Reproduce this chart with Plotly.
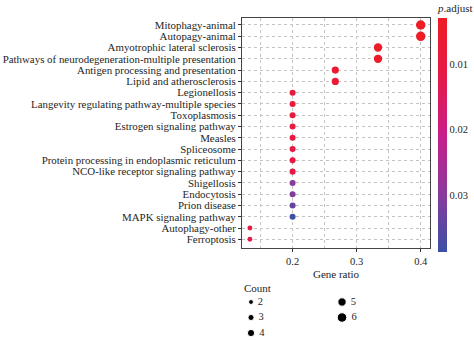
import plotly.graph_objects as go

# KEGG enrichment results
pathways = [
    "Mitophagy-animal",
    "Autopagy-animal",
    "Amyotrophic lateral sclerosis",
    "Pathways of neurodegeneration-multiple presentation",
    "Antigen processing and presentation",
    "Lipid and atherosclerosis",
    "Legionellosis",
    "Langevity regulating pathway-multiple species",
    "Toxoplasmosis",
    "Estrogen signaling pathway",
    "Measles",
    "Spliceosome",
    "Protein processing in endoplasmic reticulum",
    "NCO-like receptor signaling pathway",
    "Shigellosis",
    "Endocytosis",
    "Prion disease",
    "MAPK signaling pathway",
    "Autophagy-other",
    "Ferroptosis",
]
counts = [6, 6, 5, 5, 4, 4, 3, 3, 3, 3, 3, 3, 3, 3, 3, 3, 3, 3, 2, 2]
total_genes = 15
gene_ratio = [c / total_genes for c in counts]
p_adjust = [0.0032, 0.0032, 0.0042, 0.0045, 0.0062, 0.0068, 0.0085, 0.0088,
            0.0092, 0.0095, 0.0098, 0.0100, 0.0102, 0.0108, 0.0300, 0.0312,
            0.0340, 0.0385, 0.0110, 0.0112]

legend_counts = [2, 3, 4, 5, 6]
cbar_ticks = [0.01, 0.02, 0.03]
x_ticks = [0.2, 0.3, 0.4]

FONT = "Liberation Serif"
TXT = "#1e1e1e"
W, H = 474, 340
M_TOP = 18
PAPER_H = H - M_TOP          # bottom margin is zero; the key lives inside the paper
PLOT_BOTTOM_PX = 248


def dot_size(c):
    return 2.6 + 1.15 * c


def paper_y(px):
    return (H - px) / PAPER_H


# low p.adjust is red, high is blue; the colour axis runs on -p so the
# smallest values sit at the top of the colour bar
colorscale = [
    [0.0, "#3a50a6"],
    [0.25, "#8a3a9c"],
    [0.5, "#c81e8a"],
    [0.75, "#e41a48"],
    [1.0, "#ee1c24"],
]
neg_p = [-p for p in p_adjust]

fig = go.Figure()

fig.add_trace(go.Scatter(
    x=gene_ratio,
    y=pathways,
    mode="markers",
    showlegend=False,
    marker=dict(
        size=[dot_size(c) for c in counts],
        color=neg_p,
        colorscale=colorscale,
        cmin=-0.0387,
        cmax=-0.0029,
        opacity=1,
        line=dict(width=0),
        colorbar=dict(
            title=dict(text="<i>p</i>.adjust", side="top",
                       font=dict(family=FONT, size=11, color=TXT)),
            thickness=9,
            len=251, lenmode="pixels",
            xref="container", x=438 / W, xanchor="left", xpad=0,
            yref="container", y=1 - 1 / H, yanchor="top", ypad=0,
            outlinewidth=0,
            tickvals=[-t for t in cbar_ticks],
            ticktext=[f"{t:.2f}" for t in cbar_ticks],
            ticks="",
            tickfont=dict(family=FONT, size=10.5, color=TXT),
        ),
    ),
))

# size key: three rows per column
key_x = [0.048 if i < 3 else 0.532 for i in range(len(legend_counts))]
key_y = [i % 3 for i in range(len(legend_counts))]
fig.add_trace(go.Scatter(
    x=key_x, y=key_y,
    mode="markers+text",
    text=[f" {c}" for c in legend_counts],
    textposition="middle right",
    textfont=dict(family=FONT, size=10.5, color=TXT),
    marker=dict(size=[dot_size(c) for c in legend_counts], color="black",
                opacity=1),
    xaxis="x2", yaxis="y2",
    showlegend=False, hoverinfo="skip",
))

fig.add_annotation(
    text="Count", xref="paper", yref="paper",
    x=0.0, y=paper_y(288), xanchor="left", yanchor="middle",
    showarrow=False, font=dict(family=FONT, size=11, color=TXT),
)

grid = dict(showgrid=True, gridcolor="#c4c4c4", griddash="dot", gridwidth=1)

fig.update_layout(
    width=W, height=H,
    margin=dict(l=242, r=44, t=M_TOP, b=0),
    paper_bgcolor="white",
    plot_bgcolor="white",
    font=dict(family=FONT, size=10.5, color=TXT),
    xaxis=dict(
        title=dict(text="Gene ratio", font=dict(family=FONT, size=11), standoff=4),
        range=[0.121, 0.4145],
        tickvals=x_ticks,
        ticktext=[str(t) for t in x_ticks],
        ticks="outside", ticklen=3, tickcolor="#333",
        tickfont=dict(family=FONT, size=10.5),
        minor=dict(dtick=0.05, tick0=0.0, showgrid=True, gridcolor="#c4c4c4",
                   griddash="dot", ticks=""),
        zeroline=False,
        showline=True, linecolor="#444", linewidth=1, mirror=True,
        anchor="y",
        **grid,
    ),
    yaxis=dict(
        domain=[paper_y(PLOT_BOTTOM_PX), 1],
        categoryorder="array",
        categoryarray=pathways,
        range=[19.77, -0.62],
        dtick=1,
        ticks="outside", ticklen=3, tickcolor="#333",
        tickfont=dict(family=FONT, size=10.9),
        zeroline=False,
        showline=True, linecolor="#444", linewidth=1, mirror=True,
        anchor="x",
        **grid,
    ),
    xaxis2=dict(domain=[0, 1], range=[0, 1], visible=False, anchor="y2",
                fixedrange=True),
    yaxis2=dict(domain=[0, paper_y(290)], range=[2.45, -0.774], visible=False,
                anchor="x2", fixedrange=True),
    showlegend=False,
)

fig.write_html("out.html")
